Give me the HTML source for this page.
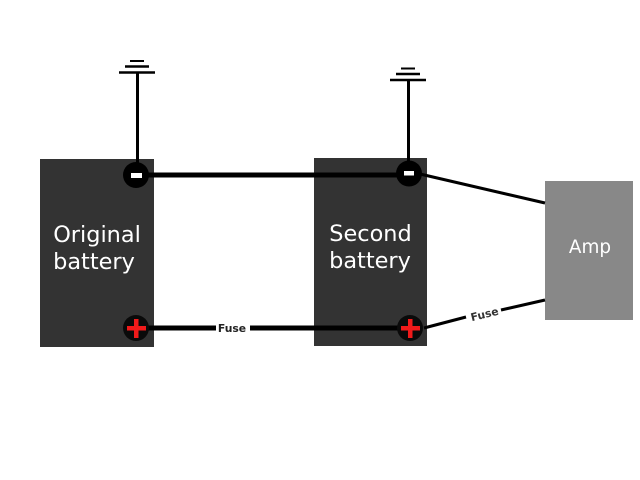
<!DOCTYPE html>
<html>
<head>
<meta charset="utf-8">
<style>
html,body{margin:0;padding:0;background:#fff;width:640px;height:480px;overflow:hidden}
svg{display:block}
text{font-family:"DejaVu Sans",sans-serif}
</style>
</head>
<body>
<svg width="640" height="480" viewBox="0 0 640 480" xmlns="http://www.w3.org/2000/svg">
<rect width="640" height="480" fill="#fff"/>
<rect x="40" y="159" width="114" height="188" fill="#333"/>
<rect x="314" y="158" width="113" height="188" fill="#333"/>
<rect x="545" y="181" width="88" height="139" fill="#888"/>
<g stroke="#000" fill="none">
<line x1="137.500" y1="72" x2="137.500" y2="170" stroke-width="3"/>
<line x1="119" y1="72.500" x2="155" y2="72.500" stroke-width="2.500"/>
<line x1="125" y1="66.500" x2="149" y2="66.500" stroke-width="2.500"/>
<line x1="130" y1="61" x2="144" y2="61" stroke-width="2"/>
<line x1="408.500" y1="80" x2="408.500" y2="170" stroke-width="3"/>
<line x1="390" y1="80" x2="426" y2="80" stroke-width="2.500"/>
<line x1="396" y1="74" x2="420" y2="74" stroke-width="2.500"/>
<line x1="401" y1="68.500" x2="415" y2="68.500" stroke-width="2"/>
<line x1="140" y1="175" x2="405" y2="175" stroke-width="5"/>
<line x1="140" y1="328" x2="216" y2="328" stroke-width="5"/>
<line x1="250" y1="328" x2="405" y2="328" stroke-width="5"/>
<line x1="420" y1="174" x2="545" y2="203" stroke-width="3"/>
<line x1="424" y1="328" x2="466" y2="317" stroke-width="3"/>
<line x1="501" y1="310" x2="545" y2="300" stroke-width="3"/>
</g>
<circle cx="136" cy="175" r="13" fill="#000"/>
<circle cx="409" cy="173.500" r="13" fill="#000"/>
<circle cx="136" cy="328" r="13" fill="#0a0a0a"/>
<circle cx="410" cy="328" r="13" fill="#0a0a0a"/>
<rect x="131" y="173" width="11" height="5" fill="#fff"/>
<rect x="404" y="171" width="10" height="4.500" fill="#fff"/>
<g fill="#f01a1a">
<rect x="127" y="326" width="19" height="4.500"/>
<rect x="134" y="319" width="4.500" height="19"/>
<rect x="401" y="326" width="19" height="4.500"/>
<rect x="408" y="319" width="4.500" height="19"/>
</g>
<g fill="#fff" font-size="22.400" text-anchor="middle">
<text x="97" y="242">Original</text>
<text x="94" y="269">battery</text>
<text x="370.500" y="241">Second</text>
<text x="370" y="268">battery</text>
</g>
<text x="590" y="253" fill="#fff" font-size="18.400" text-anchor="middle">Amp</text>
<text x="232" y="332" fill="#222" font-size="10.800" font-weight="bold" text-anchor="middle">Fuse</text>
<text transform="translate(484.500,314) rotate(-14)" y="4" fill="#333" font-size="10.800" font-weight="bold" text-anchor="middle">Fuse</text>
</svg>
</body>
</html>
